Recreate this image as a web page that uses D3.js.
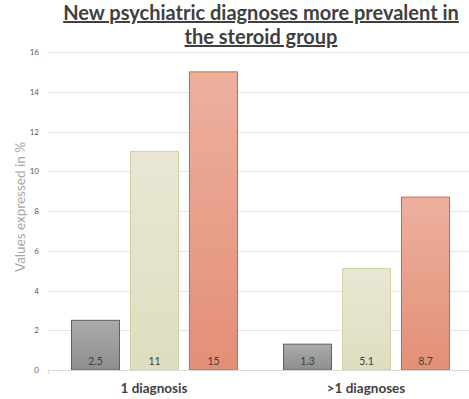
<!DOCTYPE html>
<html>
<head>
<meta charset="utf-8">
<script src="https://cdn.jsdelivr.net/npm/d3@7"></script>
<style>
  body { margin: 0; background: #fff; }
  svg { display: block; font-family: Lato, "Open Sans", sans-serif; }
</style>
</head>
<body>
<svg id="chart" width="469" height="399"></svg>
<script>
// data
const categories = ['1 diagnosis', '>1 diagnoses'];
const seriesNames = ['control', 'other', 'steroid'];
const control = [2.5, 1.3];
const other = [11, 5.1];
const steroid = [15, 8.7];
const yTicks = [0, 2, 4, 6, 8, 10, 12, 14, 16];

const width = 469, height = 399;
const margin = { top: 52, right: -3, bottom: 29, left: 48 };

const svg = d3.select('#chart');

// gradients for the three series
const defs = svg.append('defs');
const fills = [
    { id: 'g0', top: '#ababab', bottom: '#8e8e8e', stroke: '#5f5f5f' },
    { id: 'g1', top: '#e9e7d4', bottom: '#dfddbf', stroke: '#d3d0a3' },
    { id: 'g2', top: '#edb09e', bottom: '#e38f77', stroke: '#cf6a36' }
];
fills.forEach(f => {
    const lg = defs.append('linearGradient')
        .attr('id', f.id)
        .attr('x1', 0).attr('y1', 0).attr('x2', 0).attr('y2', 1);
    lg.append('stop').attr('offset', '0%').attr('stop-color', f.top);
    lg.append('stop').attr('offset', '100%').attr('stop-color', f.bottom);
});

const x0 = d3.scaleBand()
    .domain(categories)
    .range([margin.left, width - margin.right]);

const x1 = d3.scaleBand()
    .domain(seriesNames)
    .range([0, x0.bandwidth()])
    .paddingInner(0.186)
    .paddingOuter(0.39);

const y = d3.scaleLinear()
    .domain([0, 16])
    .range([height - margin.bottom, margin.top]);

// gridlines
svg.append('g')
    .selectAll('line')
    .data(yTicks.filter(d => d > 0))
    .join('line')
    .attr('x1', margin.left)
    .attr('x2', width)
    .attr('y1', d => Math.round(y(d)) + 0.5)
    .attr('y2', d => Math.round(y(d)) + 0.5)
    .attr('stroke', '#e3e3e3')
    .attr('stroke-width', 1.2);

// y axis labels
const yAxis = d3.axisLeft(y).tickValues(yTicks).tickSize(0).tickPadding(9);
const yg = svg.append('g')
    .attr('transform', `translate(${margin.left},0)`)
    .call(yAxis);
yg.select('.domain').remove();
yg.selectAll('text')
    .attr('fill', '#595959')
    .style('font-family', 'Lato, sans-serif')
    .style('font-size', '8px');

// bars
const rows = categories.map((c, i) => ({
    cat: c,
    values: [control[i], other[i], steroid[i]]
}));

const group = svg.append('g')
    .selectAll('g')
    .data(rows)
    .join('g')
    .attr('transform', d => `translate(${x0(d.cat)},0)`);

group.selectAll('rect')
    .data(d => d.values.map((v, i) => ({ v, i })))
    .join('rect')
    .attr('x', d => x1(seriesNames[d.i]) + 0.5)
    .attr('y', d => y(d.v))
    .attr('width', x1.bandwidth())
    .attr('height', d => y(0) - y(d.v))
    .attr('fill', d => `url(#${fills[d.i].id})`)
    .attr('stroke', d => fills[d.i].stroke)
    .attr('stroke-width', 1);

group.selectAll('text')
    .data(d => d.values.map((v, i) => ({ v, i })))
    .join('text')
    .attr('x', d => x1(seriesNames[d.i]) + x1.bandwidth() / 2 + 0.5)
    .attr('y', y(0) - 5)
    .attr('text-anchor', 'middle')
    .attr('fill', '#404040')
    .style('font-size', '10.5px')
    .text(d => d.v);

// baseline
svg.append('path')
    .attr('d', `M${margin.left + 0.5},${y(0) + 4}V${y(0) + 0.5}H${width}`)
    .attr('fill', 'none')
    .attr('stroke', '#d9d9d9')
    .attr('stroke-width', 1);

// category labels
svg.append('g')
    .selectAll('text')
    .data(categories)
    .join('text')
    .attr('x', d => x0(d) + x0.bandwidth() / 2)
    .attr('y', 393)
    .attr('text-anchor', 'middle')
    .attr('fill', '#404040')
    .style('font-size', '13.5px')
    .style('font-weight', 'bold')
    .text(d => d);

// y axis title
svg.append('text')
    .attr('transform', `translate(25,${(y(0) + y(16)) / 2 - 4}) rotate(-90)`)
    .attr('text-anchor', 'middle')
    .attr('fill', '#a6a6a6')
    .style('font-size', '13.5px')
    .text('Values expressed in %');

// title
const titleLines = ['New psychiatric diagnoses more prevalent in', 'the steroid group'];
svg.append('g')
    .selectAll('text')
    .data(titleLines)
    .join('text')
    .attr('x', 261)
    .attr('y', (d, i) => 20 + i * 24)
    .attr('text-anchor', 'middle')
    .attr('fill', '#404040')
    .style('font-size', '20px')
    .style('font-weight', 'bold')
    .style('text-decoration', 'underline')
    .text(d => d);
</script>
</body>
</html>
